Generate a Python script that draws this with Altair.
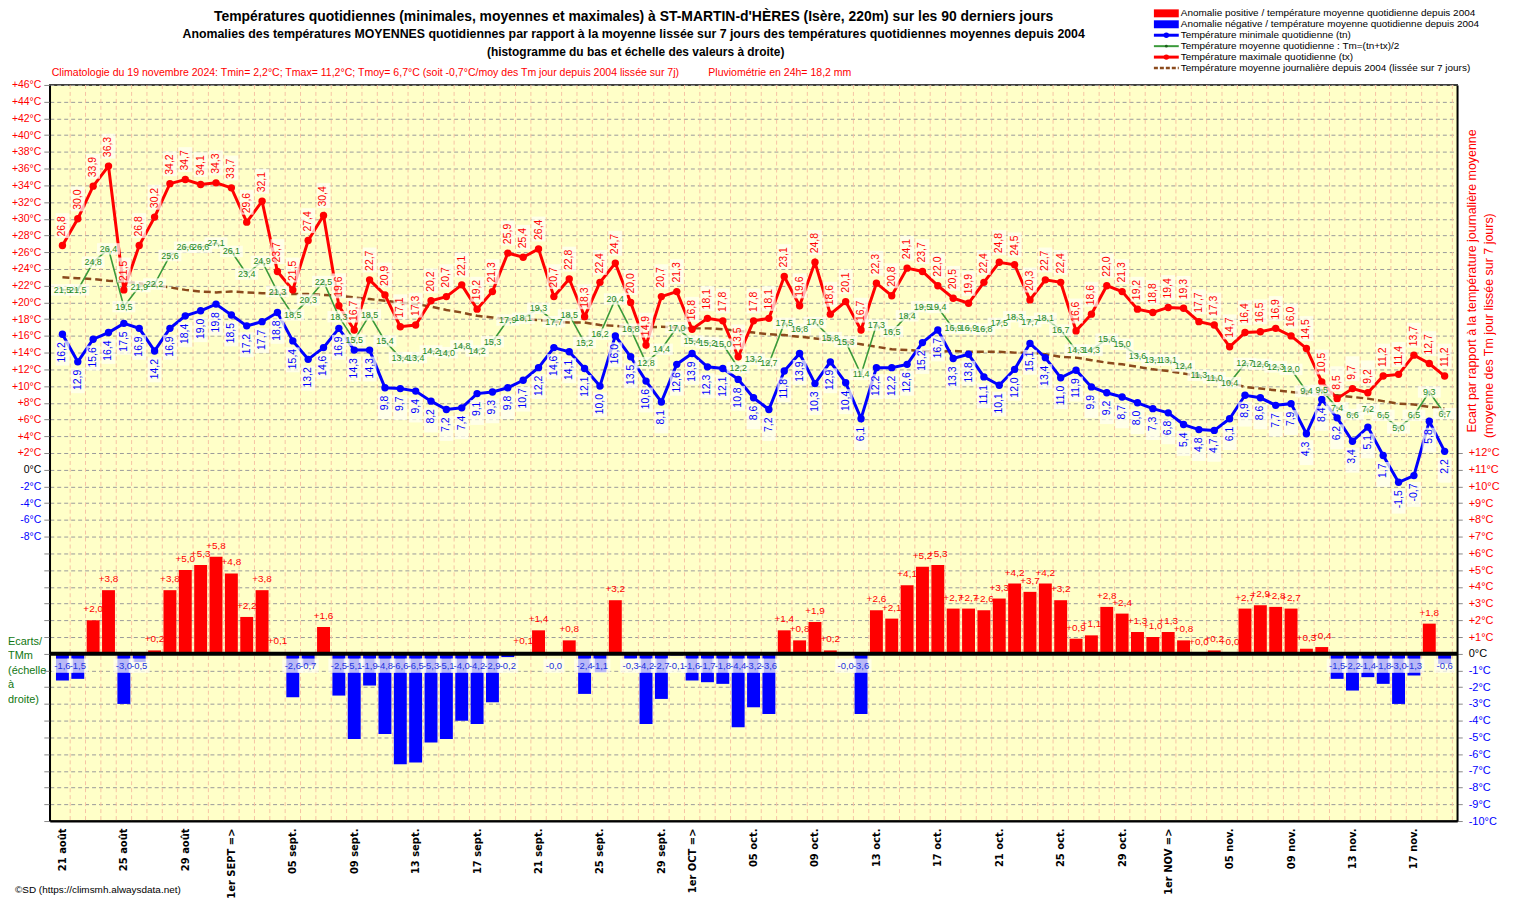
import altair as alt
import pandas as pd

# ---------------- data ----------------
day = list(range(1, 92))  # 21 août ... 19 nov.

tmax = [26.8, 30.0, 33.9, 36.3, 21.5, 26.8, 30.2, 34.2, 34.7, 34.1,
        34.3, 33.7, 29.6, 32.1, 23.7, 21.5, 27.4, 30.4, 19.6, 16.7,
        22.7, 20.9, 17.1, 17.3, 20.2, 20.7, 22.1, 19.2, 21.3, 25.9,
        25.4, 26.4, 20.7, 22.8, 18.3, 22.4, 24.7, 20.0, 14.9, 20.7,
        21.3, 16.8, 18.1, 17.8, 13.5, 17.8, 18.1, 23.1, 19.6, 24.8,
        18.6, 20.1, 16.7, 22.3, 20.8, 24.1, 23.7, 22.0, 20.5, 19.9,
        22.4, 24.8, 24.5, 20.3, 22.7, 22.4, 16.6, 18.6, 22.0, 21.3,
        19.2, 18.8, 19.4, 19.3, 17.7, 17.3, 14.7, 16.4, 16.5, 16.9,
        16.0, 14.5, 10.5, 8.5, 9.7, 9.2, 11.2, 11.4, 13.7, 12.7,
        11.2]

tmin = [16.2, 12.9, 15.6, 16.4, 17.5, 16.9, 14.2, 16.9, 18.4, 19.0,
        19.8, 18.5, 17.2, 17.7, 18.8, 15.4, 13.2, 14.6, 16.9, 14.3,
        14.3, 9.8, 9.7, 9.4, 8.2, 7.2, 7.4, 9.1, 9.3, 9.8,
        10.7, 12.2, 14.6, 14.1, 12.1, 10.0, 16.0, 13.5, 10.6, 8.1,
        12.6, 13.9, 12.3, 12.1, 10.8, 8.6, 7.2, 11.8, 13.9, 10.3,
        12.9, 10.4, 6.1, 12.2, 12.2, 12.6, 15.2, 16.7, 13.3, 13.8,
        11.1, 10.1, 12.0, 15.1, 13.4, 11.0, 11.9, 9.9, 9.2, 8.7,
        8.0, 7.3, 6.8, 5.4, 4.8, 4.7, 6.1, 8.9, 8.6, 7.7,
        7.9, 4.3, 8.4, 6.2, 3.4, 5.1, 1.7, -1.5, -0.7, 5.8,
        2.2]

tmoy = [21.5, 21.5, 24.8, 26.4, 19.5, 21.9, 22.2, 25.6, 26.6, 26.6,
        27.1, 26.1, 23.4, 24.9, 21.3, 18.5, 20.3, 22.5, 18.3, 15.5,
        18.5, 15.4, 13.4, 13.4, 14.2, 14.0, 14.8, 14.2, 15.3, 17.9,
        18.1, 19.3, 17.7, 18.5, 15.2, 16.2, 20.4, 16.8, 12.8, 14.4,
        17.0, 15.4, 15.2, 15.0, 12.2, 13.2, 12.7, 17.5, 16.8, 17.6,
        15.8, 15.3, 11.4, 17.3, 16.5, 18.4, 19.5, 19.4, 16.9, 16.9,
        16.8, 17.5, 18.3, 17.7, 18.1, 16.7, 14.3, 14.3, 15.6, 15.0,
        13.6, 13.1, 13.1, 12.4, 11.3, 11.0, 10.4, 12.7, 12.6, 12.3,
        12.0, 9.4, 9.5, 7.4, 6.6, 7.2, 6.5, 5.0, 6.5, 9.3,
        6.7]

clim = [23.0, 22.9, 22.8, 22.6, 22.5, 22.3, 22.0, 21.8, 21.5, 21.3,
        21.2, 21.3, 21.2, 21.1, 21.1, 21.0, 21.0, 20.9, 20.8, 20.6,
        20.4, 20.2, 20.0, 19.8, 19.5, 19.1, 18.8, 18.4, 18.2, 18.0,
        18.0, 17.9, 17.7, 17.6, 17.6, 17.3, 17.2, 17.0, 17.0, 17.1,
        17.0, 16.9, 16.9, 16.8, 16.6, 16.4, 16.2, 16.1, 15.9, 15.7,
        15.5, 15.3, 15.0, 14.7, 14.4, 14.3, 14.2, 14.1, 14.2, 14.1,
        14.1, 14.1, 14.0, 14.0, 13.8, 13.5, 13.4, 13.1, 12.8, 12.6,
        12.3, 12.0, 11.8, 11.5, 11.2, 10.8, 10.4, 9.9, 9.7, 9.5,
        9.3, 9.1, 9.0, 8.9, 8.7, 8.5, 8.2, 7.9, 7.8, 7.5,
        7.3]

anom = [-1.6, -1.5, 2.0, 3.8, -3.0, -0.5, 0.2, 3.8, 5.0, 5.3,
        5.8, 4.8, 2.2, 3.8, 0.1, -2.6, -0.7, 1.6, -2.5, -5.1,
        -1.9, -4.8, -6.6, -6.5, -5.3, -5.1, -4.0, -4.2, -2.9, -0.2,
        0.1, 1.4, -0.02, 0.8, -2.4, -1.1, 3.2, -0.3, -4.2, -2.7,
        -0.1, -1.6, -1.7, -1.8, -4.4, -3.2, -3.6, 1.4, 0.8, 1.9,
        0.2, -0.02, -3.6, 2.6, 2.1, 4.1, 5.2, 5.3, 2.7, 2.7,
        2.6, 3.3, 4.2, 3.7, 4.2, 3.2, 0.9, 1.1, 2.8, 2.4,
        1.3, 1.0, 1.3, 0.8, 0.04, 0.2, 0.04, 2.7, 2.9, 2.8,
        2.7, 0.3, 0.4, -1.5, -2.2, -1.4, -1.8, -3.0, -1.3, 1.8,
        -0.6]

tick_days = [1, 5, 9, 12, 16, 20, 24, 28, 32, 36, 40, 42, 46, 50, 54, 58,
             62, 66, 70, 73, 77, 81, 85, 89]
tick_labels = ["21 août", "25 août", "29 août", "1er SEPT =>", "05 sept.",
               "09 sept.", "13 sept.", "17 sept.", "21 sept.", "25 sept.",
               "29 sept.", "1er OCT =>", "05 oct.", "09 oct.", "13 oct.",
               "17 oct.", "21 oct.", "25 oct.", "29 oct.", "1er NOV =>",
               "05 nov.", "09 nov.", "13 nov.", "17 nov."]

title1 = "Températures quotidiennes (minimales, moyennes et maximales) à ST-MARTIN-d'HÈRES (Isère, 220m) sur les 90 derniers jours"
title2 = "Anomalies des températures MOYENNES quotidiennes par rapport à la moyenne lissée sur 7 jours des températures quotidiennes moyennes depuis 2004"
title3 = "(histogramme du bas et échelle des valeurs à droite)"
clim_txt = "Climatologie du 19 novembre 2024: Tmin= 2,2°C; Tmax= 11,2°C; Tmoy= 6,7°C (soit -0,7°C/moy des Tm jour depuis 2004 lissée sur 7j)"
pluvio_txt = "Pluviométrie en 24h= 18,2 mm"
legend_labels = ["Anomalie positive / température moyenne quotidienne depuis 2004",
                 "Anomalie négative / température moyenne quotidienne depuis 2004",
                 "Température minimale quotidienne (tn)",
                 "Température moyenne quotidienne : Tm=(tn+tx)/2",
                 "Température maximale quotidienne (tx)",
                 "Température moyenne journalière depuis 2004 (lissée sur 7 jours)"]
right_title1 = "Ecart  par rapport à la  température  journalière moyenne"
right_title2 = "(moyenne des Tm jour lissée sur 7 jours)"
left_note = ["Ecarts/", "TMm", "(échelle", "à", "droite)"]
footer = "©SD (https://climsmh.alwaysdata.net)"

# ---------------- styles ----------------
FONT = "Liberation Sans, Arial, Helvetica, sans-serif"
RED = "#FF0000"
BLUE = "#0000FF"
GREEN_L = "#3A9A3A"
GREEN_T = "#1E8A1E"
BROWN = "#8B4A1C"

W, H = 1415, 740
HALF = W / 91 / 2


def fr(v):
    return f"{v:.1f}".replace(".", ",")


def fs(v):
    return f"{v:+.1f}".replace(".", ",")


df = pd.DataFrame({"day": day, "tmax": tmax, "tmin": tmin, "tmoy": tmoy,
                   "clim": clim, "anom": anom})
df["lx"] = [fr(v) for v in tmax]
df["ln"] = [fr(v) for v in tmin]
df["lm"] = [fr(v) for v in tmoy]
df["la"] = [fs(v) for v in anom]
one = pd.DataFrame({"k": [0]})

xs = alt.Scale(domain=[0.5, 91.5], nice=False, zero=False)
ts = alt.Scale(domain=[-42, 46], nice=False, zero=False)
ascl = alt.Scale(domain=[-10, 34], nice=False, zero=False)

expr = "''"
for d, t in reversed(list(zip(tick_days, tick_labels))):
    expr = f"datum.value == {d} ? '{t}' : ({expr})"

xaxis = alt.Axis(values=tick_days, labelExpr=expr, labelAngle=270,
                 labelAlign="right", labelBaseline="middle",
                 labelFont="DejaVu Sans", labelFontSize=10, labelFontWeight="bold",
                 labelColor="black", labelPadding=7, labelOverlap=False,
                 labelFlush=False, ticks=False, grid=False, domain=True,
                 domainColor="black", domainWidth=2, title=None)
X = alt.X("day:Q", scale=xs, axis=xaxis)

sign_color = {"condition": [{"test": "datum.value > 0", "value": RED},
                            {"test": "datum.value < 0", "value": BLUE}],
              "value": "black"}

laxis = alt.Axis(orient="left", values=list(range(-42, 47, 2)),
                 labelExpr="datum.value >= -8 ? (datum.value > 0 ? '+' : '') + datum.value + '°C' : ''",
                 labelColor=sign_color, labelFont=FONT, labelFontSize=10.5,
                 labelPadding=3, tickSize=6, tickColor="#888888",
                 grid=True, gridDash=[4, 3], gridColor="#9a9a9a", gridWidth=1,
                 domainColor="black", domainWidth=1.5, title=None, labelOverlap=False)

raxis = alt.Axis(orient="right", values=list(range(-10, 13)),
                 labelExpr="(datum.value > 0 ? '+' : '') + datum.value + '°C'",
                 labelColor=sign_color, labelFont=FONT, labelFontSize=11,
                 labelPadding=6, tickSize=5, tickColor="#888888", grid=False,
                 domainColor="black", domainWidth=1.5, title=None, labelOverlap=False)


def T(f):
    return alt.Y(f, type="quantitative", scale=ts, axis=None)


def A(f):
    return alt.Y(f, type="quantitative", scale=ascl, axis=None)


base = alt.Chart(df)
layers = []

# vertical dashed day grid
layers.append(base.mark_rule(xOffset=HALF, color="#F6C3A3", strokeDash=[4, 3],
                             strokeWidth=1).encode(x=X))

# anomaly bars (right scale)
layers.append(base.transform_calculate(z="0").mark_bar(size=13).encode(
    x=X, y=alt.Y("anom:Q", scale=ascl, axis=raxis), y2="z:Q",
    color=alt.condition("datum.anom > 0", alt.value(RED), alt.value(BLUE))))

# label boxes for negative bars
BOX_NEG = "M-1,-0.68H1V0.68H-1Z"
layers.append(base.transform_filter("datum.anom < 0").transform_calculate(z="0")
              .mark_point(shape=BOX_NEG, size=441, filled=True, color="#FFFFF4",
                          opacity=0.72, strokeWidth=0, yOffset=12)
              .encode(x=X, y=A("z:Q")))

# zero line
layers.append(alt.Chart(one).transform_calculate(z="0")
              .mark_rule(color="black", strokeWidth=4).encode(y=A("z:Q")))

# climatology (brown dashed) carries the left axis
layers.append(base.mark_line(color=BROWN, strokeWidth=2.5, strokeDash=[7, 4]).encode(
    x=X, y=alt.Y("clim:Q", scale=ts, axis=laxis)))

# mean (green)
layers.append(base.mark_line(color=GREEN_L, strokeWidth=1.6).encode(x=X, y=T("tmoy:Q")))
layers.append(base.mark_point(filled=True, size=8, color="#1B5E1B", opacity=1).encode(
    x=X, y=T("tmoy:Q")))

# min (blue)
layers.append(base.mark_line(color=BLUE, strokeWidth=3).encode(x=X, y=T("tmin:Q")))
layers.append(base.mark_point(filled=True, size=55, color=BLUE, opacity=1).encode(
    x=X, y=T("tmin:Q")))

# max (red)
layers.append(base.mark_line(color=RED, strokeWidth=3).encode(x=X, y=T("tmax:Q")))
layers.append(base.mark_point(filled=True, size=55, color=RED, opacity=1).encode(
    x=X, y=T("tmax:Q")))

# semi transparent label boxes
BOX_V = "M-0.55,-1H0.55V1H-0.55Z"
BOX_H = "M-1,-0.5H1V0.5H-1Z"
layers.append(base.mark_point(shape=BOX_V, size=625, filled=True, color="#FFFFF4",
                              opacity=0.72, strokeWidth=0, yOffset=-20)
              .encode(x=X, y=T("tmax:Q")))
layers.append(base.mark_point(shape=BOX_V, size=625, filled=True, color="#FFFFF4",
                              opacity=0.72, strokeWidth=0, yOffset=19)
              .encode(x=X, y=T("tmin:Q")))
layers.append(base.mark_point(shape=BOX_H, size=529, filled=True, color="#FFFFF4",
                              opacity=0.72, strokeWidth=0)
              .encode(x=X, y=T("tmoy:Q")))

# value labels
layers.append(base.mark_text(angle=270, align="left", baseline="middle", dx=9,
                             font=FONT, fontSize=10.5, color=RED)
              .encode(x=X, y=T("tmax:Q"), text="lx:N"))
layers.append(base.mark_text(angle=270, align="right", baseline="middle", dx=-8,
                             font=FONT, fontSize=10.5, color=BLUE)
              .encode(x=X, y=T("tmin:Q"), text="ln:N"))
layers.append(base.mark_text(align="center", baseline="middle", font=FONT,
                             fontSize=9, color=GREEN_T)
              .encode(x=X, y=T("tmoy:Q"), text="lm:N"))
layers.append(base.transform_filter("datum.anom > 0")
              .mark_text(align="center", baseline="middle", dy=-11, font=FONT,
                         fontSize=10, color=RED)
              .encode(x=X, y=A("anom:Q"), text="la:N"))
layers.append(base.transform_filter("datum.anom < 0").transform_calculate(z="0")
              .mark_text(align="center", baseline="middle", dy=12, font=FONT,
                         fontSize=9.5, color="#2233DD")
              .encode(x=X, y=A("z:Q"), text="la:N"))


def txt(s, x, y, size, color="black", weight="normal", font=FONT, align="left",
        angle=0):
    return alt.Chart(one).mark_text(text=s, fontSize=size, color=color,
                                    fontWeight=weight, font=font, align=align,
                                    baseline="middle", angle=angle).encode(
        x=alt.value(x), y=alt.value(y))


# titles
layers.append(txt(title1, 587, -68, 14, weight="bold", align="center"))
layers.append(txt(title2, 587, -51, 12.4, weight="bold", align="center"))
layers.append(txt(title3, 589, -33, 12, weight="bold", align="center"))
layers.append(txt(clim_txt, 2, -12, 10.6, color=RED))
layers.append(txt(pluvio_txt, 662, -12, 10.6, color=RED))

# legend
ly = [-72, -61, -50, -39, -28, -17]
one_c = alt.Chart(one)
layers.append(one_c.mark_rect(color=RED).encode(x=alt.value(1110), x2=alt.value(1135),
                                                y=alt.value(ly[0] - 4), y2=alt.value(ly[0] + 4)))
layers.append(one_c.mark_rect(color=BLUE).encode(x=alt.value(1110), x2=alt.value(1135),
                                                 y=alt.value(ly[1] - 4), y2=alt.value(ly[1] + 4)))
for row, col, wdt, dot, dash in [(2, BLUE, 3, 30, None), (3, GREEN_L, 2, 8, None),
                                 (4, RED, 3, 30, None), (5, BROWN, 2.5, 0, [4, 2])]:
    kw = dict(color=col, strokeWidth=wdt)
    if dash:
        kw["strokeDash"] = dash
    layers.append(one_c.mark_rule(**kw).encode(x=alt.value(1110), x2=alt.value(1135),
                                               y=alt.value(ly[row])))
    if dot:
        layers.append(one_c.mark_point(filled=True, size=dot,
                                       color=col if row != 3 else "#1B5E1B",
                                       opacity=1).encode(x=alt.value(1122.5),
                                                         y=alt.value(ly[row])))
for i, s in enumerate(legend_labels):
    layers.append(txt(s, 1137, ly[i], 10))

# right axis title
layers.append(txt(right_title1, 1430, 197, 12.5, color=RED, align="center", angle=270))
layers.append(txt(right_title2, 1447, 242, 12.5, color=RED, align="center", angle=270))

# left note
for i, s in enumerate(left_note):
    layers.append(txt(s, -42, 560 + i * 14.5, 11, color="#117711"))

layers.append(txt(footer, -35, 809, 10))

chart = alt.layer(*layers).resolve_scale(y="independent").properties(
    width=W, height=H,
    padding={"left": 42, "top": 75, "right": 54, "bottom": 75},
    autosize=alt.AutoSizeParams(type="none"),
    background="white",
).configure_view(fill="#FFFFC8", stroke="black", strokeWidth=1.5)

chart.save("out.html", embed_options={"renderer": "svg", "actions": False})
